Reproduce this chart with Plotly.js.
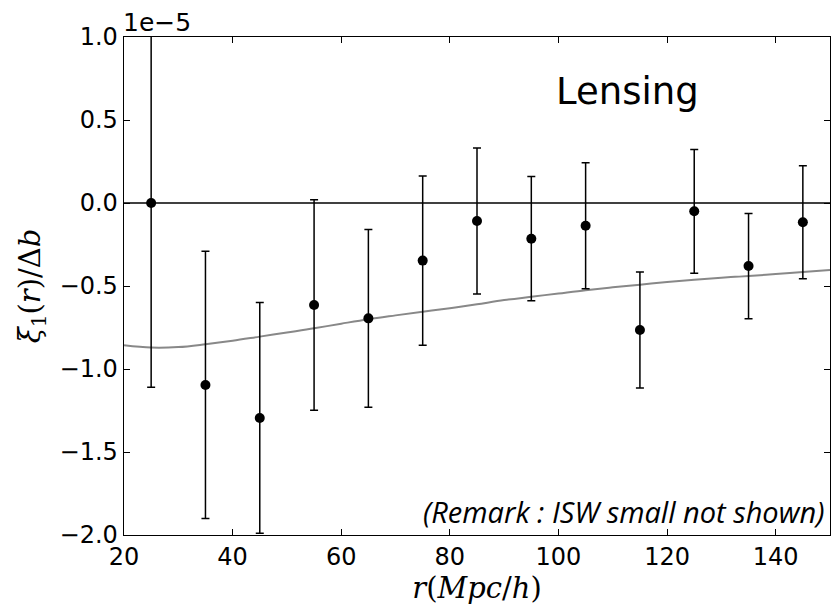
<!DOCTYPE html>
<html>
<head>
<meta charset="utf-8">
<script src="https://cdn.plot.ly/plotly-3.0.1.min.js"></script>
<style>html,body{margin:0;padding:0;background:#fff;}#plot{width:831px;height:609px;}</style>
</head>
<body>
<div id="plot"></div>
<script>
// values in units of 1e-5
var rData = [25, 35, 45, 55, 65, 75, 85, 95, 105, 115, 125, 135, 145];
var xiData = [0.0, -1.096, -1.295, -0.614, -0.695, -0.347, -0.108, -0.215, -0.137, -0.765, -0.05, -0.38, -0.116];
var xiErr = [1.11, 0.805, 0.695, 0.634, 0.536, 0.51, 0.44, 0.374, 0.38, 0.35, 0.373, 0.317, 0.34];

var rModel = [20, 25, 30, 35, 40, 45, 50, 55, 60, 65, 70, 75, 80, 85, 90, 95, 100, 105, 110, 115, 120, 125, 130, 135, 140, 145, 150];
var xiModel = [-0.857, -0.871, -0.868, -0.851, -0.83, -0.805, -0.78, -0.755, -0.727, -0.70, -0.677, -0.655, -0.634, -0.61, -0.585, -0.565, -0.545, -0.525, -0.508, -0.492, -0.476, -0.462, -0.45, -0.44, -0.428, -0.416, -0.404];

var xTicks = [20, 40, 60, 80, 100, 120, 140];
var yTicks = [1.0, 0.5, 0.0, -0.5, -1.0, -1.5, -2.0];
var zeroLine = [0, 0];
var zeroX = [20, 150];

var traces = [
  {x: zeroX, y: zeroLine, mode: 'lines', line: {color: '#000', width: 1.5}, hoverinfo: 'skip', showlegend: false},
  {x: rModel, y: xiModel, mode: 'lines', line: {color: '#888888', width: 2, shape: 'spline'}, showlegend: false},
  {x: rData, y: xiData, mode: 'markers', marker: {color: '#000', size: 10},
   error_y: {type: 'data', array: xiErr, visible: true, color: '#000', thickness: 1.5, width: 4},
   showlegend: false}
];

var axisCommon = {
  showgrid: false, zeroline: false, showline: true, linecolor: '#000', linewidth: 1.3,
  mirror: 'ticks', ticks: 'inside', ticklen: 6, tickcolor: '#000', tickwidth: 1,
  tickfont: {family: 'DejaVu Sans', size: 24, color: '#000'}
};

var layout = {
  width: 831, height: 609,
  margin: {l: 124, r: 1, t: 37, b: 74},
  paper_bgcolor: '#fff', plot_bgcolor: '#fff',
  xaxis: Object.assign({}, axisCommon, {
    range: [20, 150], tickvals: xTicks, ticktext: xTicks.map(String),
    title: {text: '<i>r</i>(<i>Mpc</i>/<i>h</i>)', font: {family: 'DejaVu Serif', size: 29, color: '#000'}, standoff: 7}
  }),
  yaxis: Object.assign({}, axisCommon, {
    range: [-2.0, 1.0], tickvals: yTicks, ticktext: yTicks.map(function(v){return (v<0?'\u2212':'') + Math.abs(v).toFixed(1);}),
    title: {text: '<i>ξ</i><sub>1</sub>(<i>r</i>)/Δ<i>b</i>', font: {family: 'DejaVu Serif', size: 29, color: '#000'}, standoff: 10}
  }),
  annotations: [
    {text: '1e\u22125', xref: 'paper', yref: 'paper', x: 0, y: 1, xanchor: 'left', yanchor: 'bottom', showarrow: false,
     font: {family: 'DejaVu Sans', size: 25, color: '#000'}, yshift: -2, xshift: -3},
    {text: 'Lensing', xref: 'x', yref: 'y', x: 112.8, y: 0.67, xanchor: 'center', yanchor: 'middle', showarrow: false,
     font: {family: 'DejaVu Sans', size: 37, color: '#000'}},
    {text: '<i>(Remark : ISW small not shown)</i>', xref: 'paper', yref: 'paper', x: 0.995, y: 0.048, xanchor: 'right', yanchor: 'middle', showarrow: false,
     font: {family: 'Open Sans', size: 29, color: '#000'}}
  ]
};

Plotly.newPlot('plot', traces, layout, {displayModeBar: false, staticPlot: true});
</script>
</body>
</html>
